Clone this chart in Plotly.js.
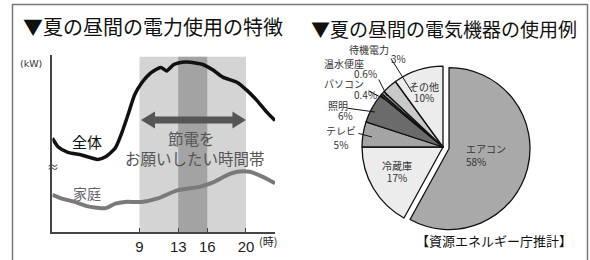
<!DOCTYPE html>
<html><head><meta charset="utf-8">
<script src="https://cdn.plot.ly/plotly-3.0.1.min.js"></script>
<style>html,body{margin:0;padding:0;background:#fff}#chart{width:590px;height:260px}</style>
</head><body><div id="chart"></div>
<script>
// ---- data ----
const totalHours = [0,0.6,1.6,3,4.7,5.5,6.5,7.1,7.8,8.5,9.2,10.2,11.2,11.8,12.5,13,13.9,15.6,16.6,17.6,19.1,20.1,21.1,22.1,23];
const totalLoad  = [53,48,45,43.5,41,42.5,47.5,55,66,77.5,84,90,93,91,94.5,95.5,96,94.5,91.5,87.5,84.5,80,74.5,68,63];
const homeHours  = [0,0.9,2.3,3.7,5.5,6.5,7.5,9.2,10.9,12.9,15.2,16.6,18,19.1,20.4,21.8,23];
const homeLoad   = [21,19,17,14.5,13.5,16,17,17,19,23.5,25.5,28,32,34,34,31,27.5];
const tickHours  = [9,13,16,20];
const tickLabels = ['9','13','16','20'];
const requestBand = [9,20];
const peakBand    = [13,16];
const pieLabels = ['エアコン','冷蔵庫','テレビ','照明','パソコン','温水便座','待機電力','その他'];
const pieValues = [58,17,5,6,0.4,0.6,3,10];
const pieValueText = ['58%','17%','5%','6%','0.4%','0.6%','3%','10%'];

// ---- styles ----
const pieColors = ['#a9a9a9','#ececec','#a4a4a4','#6b6b6b','#4a4a4a','#9a9a9a','#c9c9c9','#ececec'];
const piePull   = [0.077,0,0,0,0,0,0,0];
const W=590,H=260;
const px = x => x/W, py = y => 1 - y/H;
const JP = '"Noto Sans CJK JP", sans-serif';

const traces = [
  {type:'scatter', mode:'lines', x:homeHours, y:homeLoad, line:{color:'#7a7a7a', width:4, shape:'spline', smoothing:0.6}, hoverinfo:'skip', showlegend:false, xaxis:'x', yaxis:'y'},
  {type:'scatter', mode:'lines', x:totalHours, y:totalLoad, line:{color:'#111', width:3.5, shape:'spline', smoothing:0.6}, hoverinfo:'skip', showlegend:false, xaxis:'x', yaxis:'y'},
  {type:'pie', labels:pieLabels, values:pieValues, sort:false, direction:'clockwise', rotation:0,
   pull:piePull, marker:{colors:pieColors, line:{color:'#111', width:1.3}}, textinfo:'none', hoverinfo:'none',
   domain:{x:[px(355.8), px(530.2)], y:[py(234.2), py(59.8)]}, showlegend:false}
];

const arrowY = 63.3;
const shapes = [
  {type:'rect', xref:'x', yref:'y', x0:requestBand[0], x1:requestBand[1], y0:0, y1:99, fillcolor:'#d4d4d4', line:{width:0}, layer:'below'},
  {type:'rect', xref:'x', yref:'y', x0:peakBand[0], x1:peakBand[1], y0:0, y1:99, fillcolor:'#a3a3a3', line:{width:0}, layer:'below'},
  {type:'line', xref:'x', yref:'y', x0:10.2, x1:19.0, y0:arrowY, y1:arrowY, line:{color:'#555', width:7}},
  {type:'path', xref:'x', yref:'y', path:`M 9.15,${arrowY} L 10.6,${arrowY+4.8} L 10.6,${arrowY-4.8} Z`, fillcolor:'#555', line:{width:0}},
  {type:'path', xref:'x', yref:'y', path:`M 20,${arrowY} L 18.6,${arrowY+4.8} L 18.6,${arrowY-4.8} Z`, fillcolor:'#555', line:{width:0}},
  {type:'rect', xref:'paper', yref:'paper', x0:px(12.5), x1:px(587.5), y0:-0.2, y1:py(4.5), line:{color:'#777', width:1.5}, fillcolor:'rgba(0,0,0,0)'}
];

function ann(text, x, y, size, color, extra){
  return Object.assign({text, xref:'paper', yref:'paper', x:px(x), y:py(y), xanchor:'center', yanchor:'middle', showarrow:false,
    borderpad:0, font:{family:JP, size, color}}, extra||{});
}
// several lines in one text, with a chosen line pitch (px) and glyph size
function stack(lines, x, yCenter, pitch, size, align){
  const text = lines.map(l => `<span style="font-size:${size}px">${l}</span>`).join('<br>');
  return ann(text, x, yCenter, pitch/1.3, '#333', {align, xanchor: align==='left' ? 'left' : 'center'});
}
function leader(tipX, tipY, tailX, tailY){
  return {xref:'paper', yref:'paper', x:px(tipX), y:py(tipY), ax:tailX-tipX, ay:tailY-tipY, showarrow:true,
    arrowhead:0, arrowwidth:1, arrowcolor:'#111', text:''};
}
const LS = 10;
const SP = '\u3000';
const annotations = [
  ann('▼夏の昼間の電力使用の特徴', 152.5, 26.5, 20, '#111'),
  ann('▼夏の昼間の電気機器の使用例', 444, 28, 19, '#111'),
  ann('(kW)', 31, 63, 9.5, '#333', {font:{family:'"DejaVu Sans", sans-serif', size:9.5, color:'#333'}}),
  ann('≈', 53, 166, 12, '#444'),
  ann('全体', 87, 141, 15, '#111'),
  ann('家庭', 87, 193, 14, '#666'),
  ann('節電を', 191, 138, 15.5, '#555'),
  ann('お願いしたい時間帯', 194.5, 158, 15.5, '#555'),
  ann('(時)', 268, 241, 11, '#222'),
  // pie labels
  ann(pieLabels[6], 369, 49, LS, '#333'),
  ann(pieValueText[6], 398, 59, LS, '#333'),
  stack([pieLabels[5], SP+SP+SP+pieValueText[5], pieLabels[4], SP+SP+SP+pieValueText[4]], 323, 78.5, 10.2, LS, 'left'),
  stack([pieLabels[3], SP+pieValueText[3]], 327, 110, 10.2, LS, 'left'),
  stack([pieLabels[2], pieValueText[2]], 341, 137.5, 14, LS, 'center'),
  stack([pieLabels[7], pieValueText[7]], 424, 91.5, 11, LS, 'center'),
  stack([pieLabels[0], pieValueText[0]], 465, 155, 13, LS, 'left'),
  stack([pieLabels[1], pieValueText[1]], 397, 171.5, 12, LS, 'center'),
  ann('【資源エネルギー庁推計】', 494, 240, 13, '#111'),
  // leader lines
  leader(412, 92, 390, 57),
  leader(387, 96, 378, 78),
  leader(384, 99, 367, 90),
  leader(375, 112, 346, 108),
  leader(372, 137, 357, 133)
];

const layout = {
  width:W, height:H, margin:{l:0,r:0,t:0,b:0}, paper_bgcolor:'#fff', plot_bgcolor:'rgba(0,0,0,0)',
  showlegend:false,
  xaxis:{domain:[px(52.4), px(275)], range:[0,23], showgrid:false, zeroline:false, showline:true, linecolor:'#444', linewidth:2,
    tickvals:tickHours, ticktext:tickLabels, ticks:'inside', ticklen:4, tickcolor:'#444',
    tickfont:{family:'"Liberation Sans Narrow", "Liberation Sans", sans-serif', size:15, color:'#222'}, fixedrange:true},
  yaxis:{domain:[py(232), py(55)], range:[0,100], showgrid:false, zeroline:false, showline:true, linecolor:'#444', linewidth:2,
    showticklabels:false, ticks:'', fixedrange:true},
  shapes, annotations
};
Plotly.newPlot('chart', traces, layout, {staticPlot:true, displayModeBar:false});
</script></body></html>
